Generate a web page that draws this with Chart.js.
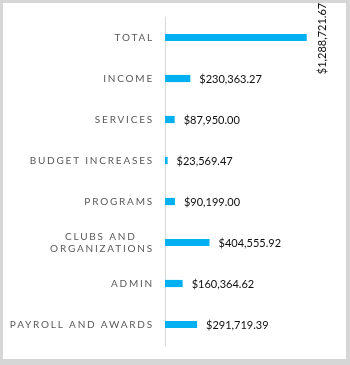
<!DOCTYPE html>
<html>
<head>
<meta charset="utf-8">
<script src="https://cdn.jsdelivr.net/npm/chart.js@4.4.1/dist/chart.umd.min.js"></script>
<style>
  html, body { margin: 0; padding: 0; background: #fff; }
  #frame {
    width: 343px; height: 356px;
    border-style: solid; border-color: #d6d6d6;
    border-width: 3px 4px 6px 3px;
    background: #fff;
  }
  canvas { display: block; }
</style>
</head>
<body>
<div id="frame"><canvas id="myChart" width="343" height="356"></canvas></div>
<script>
// budget categories, top to bottom
var categories = ['TOTAL', 'INCOME', 'SERVICES', 'BUDGET INCREASES', 'PROGRAMS',
                  ['CLUBS AND', 'ORGANIZATIONS'], 'ADMIN', 'PAYROLL AND AWARDS'];
var amounts = [1288721.67, 230363.27, 87950.00, 23569.47, 90199.00, 404555.92, 160364.62, 291719.39];

var money = v => '$' + v.toLocaleString('en-US', { minimumFractionDigits: 2, maximumFractionDigits: 2 });

// canvas letter spacing for the axis labels only
var spacing = {
    id: 'spacing',
    beforeDraw: chart => { chart.ctx.letterSpacing = '1.8px'; },
    beforeDatasetsDraw: chart => { chart.ctx.letterSpacing = '0px'; }
};

// value labels at the end of each bar
var valueLabels = {
    id: 'valueLabels',
    afterDatasetsDraw: chart => {
        var ctx = chart.ctx;
        var meta = chart.getDatasetMeta(0);
        ctx.save();
        ctx.font = '11px Lato';
        ctx.fillStyle = '#0d0d0d';
        ctx.textBaseline = 'middle';
        meta.data.forEach((bar, i) => {
            var txt = money(amounts[i]);
            var w = ctx.measureText(txt).width;
            if (bar.x + 9 + w > chart.width - 4) {
                // no room: turn it upright
                ctx.save();
                ctx.translate(bar.x + 16, bar.y + 1);
                ctx.rotate(-Math.PI / 2);
                ctx.textAlign = 'center';
                ctx.fillText(txt, 0, 0);
                ctx.restore();
            } else {
                ctx.textAlign = 'left';
                ctx.fillText(txt, bar.x + 9, bar.y + 1);
            }
        });
        ctx.restore();
    }
};

var ctx = document.getElementById('myChart').getContext('2d');
var myChart = new Chart(ctx, {
    type: 'bar',
    data: {
        labels: categories,
        datasets: [{
            data: amounts,
            backgroundColor: '#00b0f0',
            barPercentage: 0.5,
            categoryPercentage: 0.35
        }]
    },
    plugins: [spacing, valueLabels],
    options: {
        indexAxis: 'y',
        responsive: false,
        animation: false,
        layout: { padding: { top: 14, bottom: 14, right: 27, left: 0 } },
        plugins: {
            legend: { display: false },
            tooltip: { enabled: false }
        },
        scales: {
            x: {
                display: false,
                min: 0,
                max: 1400000
            },
            y: {
                grid: { display: false, drawTicks: false },
                border: { display: true, color: '#d9d9d9', width: 1 },
                afterFit: axis => {
                    axis.width = 162;
                    axis.paddingTop = 0;
                    axis.paddingBottom = 0;
                },
                ticks: {
                    padding: 11,
                    color: '#595959',
                    font: { family: 'Lato', size: 10, lineHeight: 1.2 },
                    callback: function (value) {
                        var lab = this.getLabelForValue(value);
                        if (Array.isArray(lab)) {
                            // keep the short line centred over the long one
                            return [lab[0] + '    ', lab[1]];
                        }
                        return lab;
                    }
                }
            }
        }
    }
});
</script>
</body>
</html>
